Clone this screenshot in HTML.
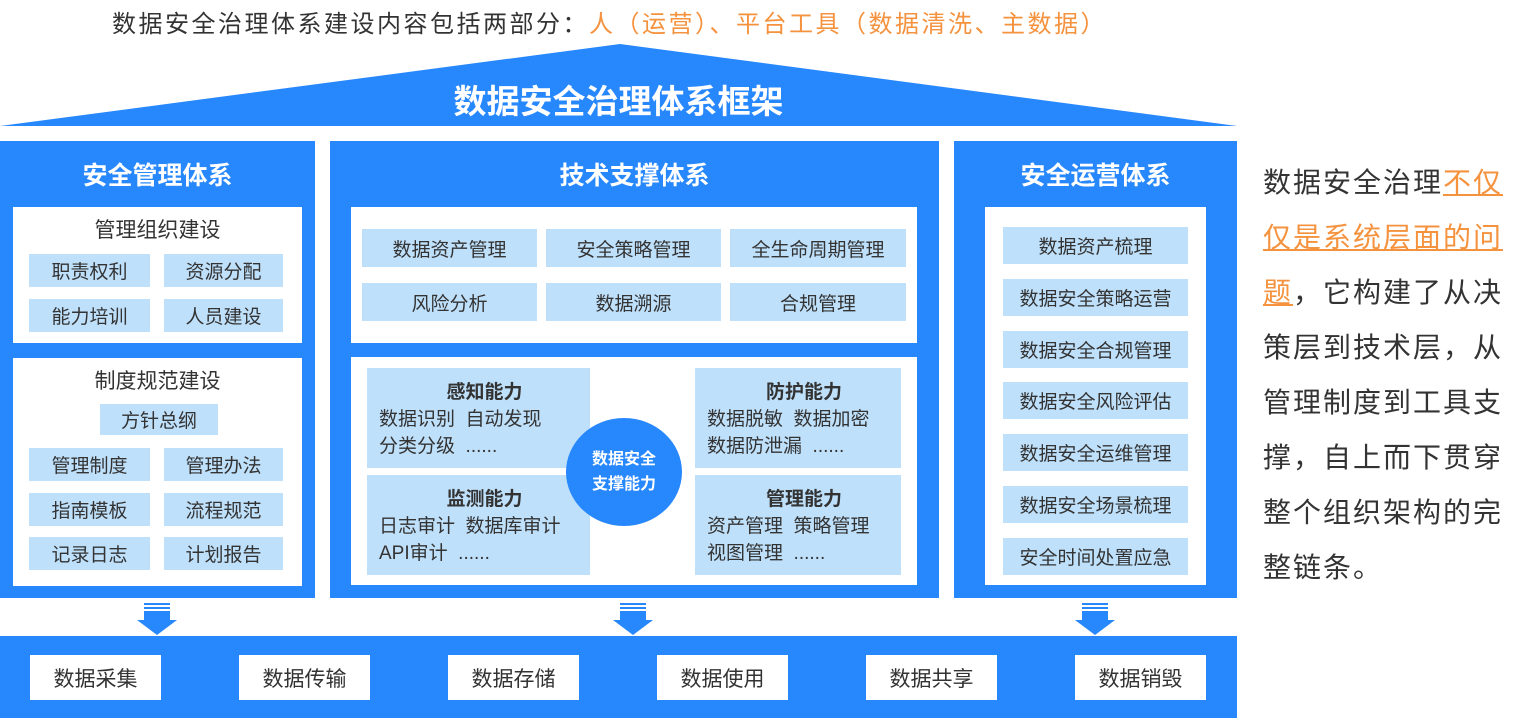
<!DOCTYPE html><html><head><meta charset="utf-8"><style>
*{margin:0;padding:0;box-sizing:border-box}
body{width:1525px;height:718px;background:#fff;position:relative;overflow:hidden;font-family:"Liberation Sans","Noto Sans CJK SC",sans-serif;color:#333}
.a{position:absolute}
.bl{background:#2787fd}
.w{background:#fff}
.c{background:#bfe0fb;display:flex;align-items:center;justify-content:center;font-size:19px;color:#333}
.h{color:#fff;font-size:25px;text-align:center;font-weight:bold}
.t{text-align:center;font-size:21px;color:#333}
.q{background:#bfe0fb;font-size:19px;line-height:27px;color:#333;padding-left:12px}
.q b{display:block;text-align:center;font-size:19px}
.bb{background:#fff;display:flex;align-items:center;justify-content:center;font-size:21px;color:#333}
.arr{position:absolute;width:40px;height:32px}
</style></head><body>
<div class="a" style="left:112px;top:4px;font-size:24px;letter-spacing:2.5px;color:#333;white-space:nowrap">数据安全治理体系建设内容包括两部分：<span style="color:#f5923e">人（运营）、平台工具（数据清洗、主数据）</span></div>
<svg class="a" style="left:0;top:0" width="1240" height="130"><polygon points="0,126 620,44 1237,126" fill="#2787fd"/></svg>
<div class="a" style="left:0;width:1237px;top:75px;text-align:center;color:#fff;font-size:33px;font-weight:bold">数据安全治理体系框架</div>

<div class="a bl" style="left:0;top:141px;width:315px;height:457px"></div>
<div class="a h" style="left:0;top:156px;width:315px">安全管理体系</div>
<div class="a w" style="left:13px;top:207px;width:289px;height:136px"></div>
<div class="a t" style="left:13px;top:214px;width:289px">管理组织建设</div>
<div class="a c" style="left:29px;top:254px;width:121px;height:33px">职责权利</div>
<div class="a c" style="left:164px;top:254px;width:119px;height:33px">资源分配</div>
<div class="a c" style="left:29px;top:299px;width:121px;height:33px">能力培训</div>
<div class="a c" style="left:164px;top:299px;width:119px;height:33px">人员建设</div>
<div class="a w" style="left:13px;top:358px;width:289px;height:228px"></div>
<div class="a t" style="left:13px;top:365px;width:289px">制度规范建设</div>
<div class="a c" style="left:100px;top:404px;width:118px;height:31px">方针总纲</div>
<div class="a c" style="left:29px;top:448px;width:121px;height:33px">管理制度</div>
<div class="a c" style="left:164px;top:448px;width:119px;height:33px">管理办法</div>
<div class="a c" style="left:29px;top:493px;width:121px;height:33px">指南模板</div>
<div class="a c" style="left:164px;top:493px;width:119px;height:33px">流程规范</div>
<div class="a c" style="left:29px;top:537px;width:121px;height:33px">记录日志</div>
<div class="a c" style="left:164px;top:537px;width:119px;height:33px">计划报告</div>

<div class="a bl" style="left:330px;top:141px;width:609px;height:457px"></div>
<div class="a h" style="left:330px;top:156px;width:609px">技术支撑体系</div>
<div class="a w" style="left:351px;top:207px;width:566px;height:136px"></div>
<div class="a c" style="left:362px;top:229px;width:175px;height:38px">数据资产管理</div>
<div class="a c" style="left:546px;top:229px;width:175px;height:38px">安全策略管理</div>
<div class="a c" style="left:730px;top:229px;width:176px;height:38px">全生命周期管理</div>
<div class="a c" style="left:362px;top:283px;width:175px;height:38px">风险分析</div>
<div class="a c" style="left:546px;top:283px;width:175px;height:38px">数据溯源</div>
<div class="a c" style="left:730px;top:283px;width:176px;height:38px">合规管理</div>
<div class="a w" style="left:351px;top:357px;width:566px;height:228px"></div>
<div class="a q" style="left:367px;top:368px;width:223px;height:100px;padding-top:11px"><b>感知能力</b>数据识别&nbsp; 自动发现<br>分类分级&nbsp; ......</div>
<div class="a q" style="left:367px;top:475px;width:223px;height:100px;padding-top:11px"><b>监测能力</b>日志审计&nbsp; 数据库审计<br>API审计&nbsp; ......</div>
<div class="a q" style="left:695px;top:368px;width:206px;height:100px;padding-top:11px"><b>防护能力</b>数据脱敏&nbsp; 数据加密<br>数据防泄漏&nbsp; ......</div>
<div class="a q" style="left:695px;top:475px;width:206px;height:100px;padding-top:11px"><b>管理能力</b>资产管理&nbsp; 策略管理<br>视图管理&nbsp; ......</div>
<div class="a" style="left:566px;top:418px;width:116px;height:108px;border-radius:50%;background:#2787fd;color:#fff;font-size:16px;font-weight:bold;line-height:25px;display:flex;align-items:center;justify-content:center;text-align:center">数据安全<br>支撑能力</div>

<div class="a bl" style="left:954px;top:141px;width:283px;height:457px"></div>
<div class="a h" style="left:954px;top:156px;width:283px">安全运营体系</div>
<div class="a w" style="left:985px;top:207px;width:221px;height:378px"></div>
<div class="a c" style="left:1003px;top:227px;width:185px;height:37px">数据资产梳理</div>
<div class="a c" style="left:1003px;top:279px;width:185px;height:37px">数据安全策略运营</div>
<div class="a c" style="left:1003px;top:331px;width:185px;height:37px">数据安全合规管理</div>
<div class="a c" style="left:1003px;top:382px;width:185px;height:37px">数据安全风险评估</div>
<div class="a c" style="left:1003px;top:434px;width:185px;height:37px">数据安全运维管理</div>
<div class="a c" style="left:1003px;top:486px;width:185px;height:37px">数据安全场景梳理</div>
<div class="a c" style="left:1003px;top:538px;width:185px;height:37px">安全时间处置应急</div>

<div class="a" style="left:1263px;top:155px;font-size:28px;letter-spacing:2px;line-height:55px;color:#333;white-space:nowrap">数据安全治理<span style="color:#f5923e;text-decoration:underline">不仅</span><br><span style="color:#f5923e;text-decoration:underline">仅是系统层面的问</span><br><span style="color:#f5923e;text-decoration:underline">题</span>，它构建了从决<br>策层到技术层，从<br>管理制度到工具支<br>撑，自上而下贯穿<br>整个组织架构的完<br>整链条。</div>

<svg class="arr" style="left:137px;top:603px" viewBox="0 0 40 32"><rect x="7" y="0" width="26" height="2" fill="#2787fd"/><rect x="7" y="4" width="26" height="2" fill="#2787fd"/><rect x="7" y="8" width="26" height="9" fill="#2787fd"/><polygon points="0,17 40,17 20,32" fill="#2787fd"/></svg>
<svg class="arr" style="left:613px;top:603px" viewBox="0 0 40 32"><rect x="7" y="0" width="26" height="2" fill="#2787fd"/><rect x="7" y="4" width="26" height="2" fill="#2787fd"/><rect x="7" y="8" width="26" height="9" fill="#2787fd"/><polygon points="0,17 40,17 20,32" fill="#2787fd"/></svg>
<svg class="arr" style="left:1075px;top:603px" viewBox="0 0 40 32"><rect x="7" y="0" width="26" height="2" fill="#2787fd"/><rect x="7" y="4" width="26" height="2" fill="#2787fd"/><rect x="7" y="8" width="26" height="9" fill="#2787fd"/><polygon points="0,17 40,17 20,32" fill="#2787fd"/></svg>

<div class="a bl" style="left:0;top:636px;width:1237px;height:82px"></div>
<div class="a bb" style="left:30px;top:655px;width:131px;height:45px">数据采集</div>
<div class="a bb" style="left:239px;top:655px;width:131px;height:45px">数据传输</div>
<div class="a bb" style="left:448px;top:655px;width:131px;height:45px">数据存储</div>
<div class="a bb" style="left:657px;top:655px;width:131px;height:45px">数据使用</div>
<div class="a bb" style="left:866px;top:655px;width:131px;height:45px">数据共享</div>
<div class="a bb" style="left:1075px;top:655px;width:131px;height:45px">数据销毁</div>
</body></html>
